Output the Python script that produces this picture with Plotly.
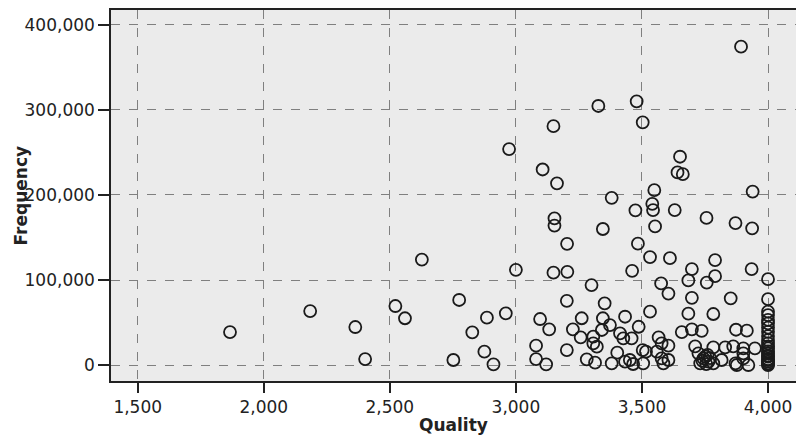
import plotly.graph_objects as go

# Scatter data: Quality (x) vs Frequency (y)
quality = [
    1866, 2184, 2363, 2402, 2522, 2560, 2627, 2752, 2775, 2827,
    2885, 2875, 2911, 2960, 2973, 3000, 3080, 3080, 3096, 3106,
    3120, 3132, 3149, 3149, 3153, 3153, 3163, 3202, 3202, 3203,
    3204, 3226, 3257, 3261, 3281, 3300, 3307, 3307, 3321, 3314,
    3327, 3341, 3345, 3345, 3352, 3373, 3380, 3380, 3402, 3413,
    3426, 3433, 3433, 3452, 3459, 3461, 3465, 3474, 3479, 3484,
    3487, 3503, 3503, 3505, 3516, 3532, 3532, 3541, 3544, 3549,
    3552, 3559, 3566, 3576, 3578, 3578, 3585, 3605, 3605, 3605,
    3611, 3630, 3641, 3651, 3662, 3658, 3684, 3684, 3698, 3698,
    3698, 3711, 3724, 3737, 3744, 3731, 3751, 3756, 3757, 3764,
    3783, 3783, 3783, 3790, 3790, 3816, 3830, 3852, 3862, 3871,
    3873, 3871, 3876, 3893, 3902, 3902, 3902, 3916, 3922, 3935,
    3937, 3939, 3948, 3740, 3755, 3770, 3760,
    4000, 4000, 4000, 4000, 4000, 4000, 4000, 4000, 4000, 4000,
    4000, 4000, 4000, 4000, 4000, 4000, 4000, 4000, 4000, 4000,
    4000, 4000, 4000,
]
frequency = [
    38800, 63500, 44700, 7000, 69400, 55000, 124000, 5900, 76500, 38500,
    55700, 15700, 800, 60800, 254000, 112000, 22700, 7000, 54100, 230000,
    800, 42000, 281000, 108600, 172500, 164000, 213700, 75500, 17600, 142500,
    109600, 42000, 32600, 55000, 6700, 94000, 33300, 25500, 21600, 2700,
    304700, 41200, 160000, 55000, 72600, 47000, 196700, 2000, 14500, 37300,
    31400, 56800, 3900, 5900, 31400, 110800, 1200, 182000, 310200, 142700,
    45000, 285500, 17600, 2000, 15700, 127000, 62700, 189600, 182200, 205700,
    163000, 15700, 32600, 96000, 25500, 7800, 2000, 84000, 22700, 5900,
    125700, 182200, 226500, 245000, 224500, 38800, 99500, 60400, 112800, 79000,
    42000, 22000, 13700, 40200, 7800, 2000, 9800, 173000, 97000, 3900,
    60000, 20800, 2000, 123500, 104500, 5900, 20800, 78500, 22000, 167000,
    41500, 2000, 0, 374500, 19600, 13700, 7800, 40400, 0, 112800,
    160800, 204000, 19600, 5000, 1000, 8000, 12000,
    101000, 77500, 62700, 58800, 53000, 49000, 44000, 39000, 34000, 29400,
    25500, 22000, 19600, 16000, 13700, 11000, 9800, 7000, 5900, 4000,
    2000, 1000, 0,
]

x_ticks = [1500, 2000, 2500, 3000, 3500, 4000]
x_tick_text = ["1,500", "2,000", "2,500", "3,000", "3,500", "4,000"]
y_ticks = [0, 100000, 200000, 300000, 400000]
y_tick_text = ["0", "100,000", "200,000", "300,000", "400,000"]

fig = go.Figure(
    go.Scatter(
        x=quality,
        y=frequency,
        mode="markers",
        marker=dict(symbol="circle-open", size=12, color="#1a1a1a",
                    line=dict(width=1.8)),
        hoverinfo="x+y",
    )
)

font_family = "DejaVu Sans"
fig.update_layout(
    width=796,
    height=437,
    margin=dict(l=111, r=0, t=10, b=56),
    paper_bgcolor="white",
    plot_bgcolor="#EBEBEB",
    showlegend=False,
    font=dict(family=font_family, size=17, color="#222222"),
    annotations=[
        dict(text="<b>Quality</b>", xref="paper", yref="paper",
             x=0.5, y=-0.118, showarrow=False, xanchor="center",
             yanchor="middle", font=dict(size=17)),
        dict(text="<b>Frequency</b>", xref="paper", yref="paper",
             x=-0.1315, y=0.5, showarrow=False, xanchor="center",
             yanchor="middle", textangle=-90, font=dict(size=17)),
    ],
)
fig.update_xaxes(
    range=[1394, 4111],
    tickvals=x_ticks,
    ticktext=x_tick_text,
    automargin=False,
    showline=True, linecolor="#222222", linewidth=1.5, mirror=True,
    ticks="outside", ticklen=10, tickwidth=1.5, tickcolor="#222222",
    showgrid=True, gridcolor="#7f7f7f", griddash="dash", gridwidth=1,
    zeroline=False,
    tickfont=dict(size=17),
)
fig.update_yaxes(
    range=[-18800, 417600],
    tickvals=y_ticks,
    ticktext=y_tick_text,
    automargin=False,
    showline=True, linecolor="#222222", linewidth=1.5, mirror=False,
    ticks="outside", ticklen=11, tickwidth=1.5, tickcolor="#222222",
    showgrid=True, gridcolor="#7f7f7f", griddash="dash", gridwidth=1,
    zeroline=False,
    tickfont=dict(size=17),
)

fig.write_html(
    "out.html",
    config={"displayModeBar": False},
    post_script="document.body.style.margin='0';document.body.style.overflow='hidden';",
)
